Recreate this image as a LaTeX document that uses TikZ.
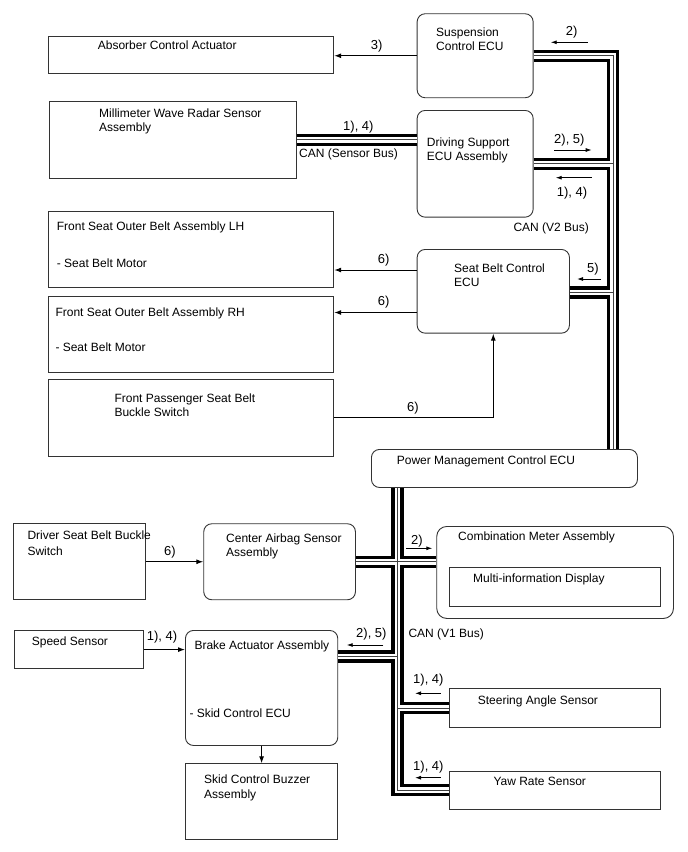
\documentclass[tikz,border=0pt]{standalone}
\usepackage{fontspec}
\setmainfont{Liberation Sans}
\usetikzlibrary{arrows.meta}
\begin{document}
\begin{tikzpicture}[x=1pt,y=-1pt,
  box/.style={draw=black!80,line width=0.9pt,inner sep=0pt,anchor=north west},
  ecu/.style={box,rounded corners=8pt},
  txt/.style={font=\fontsize{12}{14}\selectfont,inner sep=0pt,anchor=north west,align=left},
  num/.style={font=\fontsize{13}{15}\selectfont,inner sep=0pt,anchor=base west},
  sig/.style={line width=1pt,-{Latex[length=7pt,width=5pt]}},
  tag/.style={line width=0.9pt,-{Latex[length=6pt,width=4pt]}},
  busouter/.style={line width=12.5pt,black},
  businner/.style={line width=5.5pt,white},
  buswire/.style={line width=0.9pt,black!75}]
\useasboundingbox (0,0) rectangle (688,852);
% upper part
\node[box,minimum width=285.6pt,minimum height=37.6pt] (absorber) at (47.7,35.7) {};
\node[ecu,minimum width=116pt,minimum height=84pt] (susp) at (416.7,13.3) {};
\node[box,minimum width=246.4pt,minimum height=76.7pt] (mmw) at (49.3,101) {};
\node[ecu,minimum width=116pt,minimum height=106.7pt] (drive) at (416.7,110) {};
\node[box,minimum width=285.6pt,minimum height=76.3pt] (lh) at (47.7,211) {};
\node[box,minimum width=285.6pt,minimum height=76pt] (rh) at (47.7,295.7) {};
\node[box,minimum width=285.6pt,minimum height=76.4pt] (pass) at (47.7,379.3) {};
\node[ecu,minimum width=152.3pt,minimum height=83.7pt] (sbelt) at (416.7,249) {};
\node[ecu,minimum width=266pt,minimum height=38pt] (pm) at (371,449) {};
% lower part
\node[box,minimum width=131.7pt,minimum height=76pt] (drv) at (13.3,523.3) {};
\node[ecu,minimum width=151.7pt,minimum height=76pt] (airbag) at (203.3,523.3) {};
\node[ecu,rounded corners=10pt,minimum width=236.7pt,minimum height=92pt] (meter) at (436.3,526) {};
\node[box,minimum width=210.7pt,minimum height=39pt] (disp) at (449.3,567) {};
\node[box,minimum width=129.3pt,minimum height=38.3pt] (speed) at (14,630) {};
\node[ecu,minimum width=152.3pt,minimum height=115pt] (brake) at (185,630) {};
\node[box,minimum width=152.3pt,minimum height=76pt] (buzzer) at (185,763.3) {};
\node[box,minimum width=210.7pt,minimum height=38.4pt] (steer) at (449.3,688.3) {};
\node[box,minimum width=210.7pt,minimum height=38pt] (yaw) at (449.3,770.7) {};

% texts
\node[txt] (absorber-t) at (97.7,40.4) {Absorber Control Actuator};
\node[txt] (susp-t) at (436,28.1) {Suspension\\Control ECU};
\node[txt] (mmw-t) at (99,108.9) {Millimeter Wave Radar Sensor\\Assembly};
\node[txt] (drive-t) at (426.7,138.1) {Driving Support\\ECU Assembly};
\node[txt] (lh-t) at (56.7,221.4) {Front Seat Outer Belt Assembly LH};
\node[txt] (lh-m) at (56.7,258.1) {- Seat Belt Motor};
\node[txt] (rh-t) at (55.3,307.1) {Front Seat Outer Belt Assembly RH};
\node[txt] (rh-m) at (55.3,342.1) {- Seat Belt Motor};
\node[txt] (pass-t) at (114.3,393.7) {Front Passenger Seat Belt\\Buckle Switch};
\node[txt] (sbelt-t) at (454,263.4) {Seat Belt Control\\ECU};
\node[txt] (pm-t) at (396.7,455.4) {Power Management Control ECU};
\node[txt] (drv-t) at (27.3,530.4) {Driver Seat Belt Buckle\\[2pt]Switch};
\node[txt] (airbag-t) at (226,533.1) {Center Airbag Sensor\\Assembly};
\node[txt] (meter-t) at (458,531.4) {Combination Meter Assembly};
\node[txt] (disp-t) at (473,573.4) {Multi-information Display};
\node[txt] (speed-t) at (31.7,636.4) {Speed Sensor};
\node[txt] (brake-t) at (194.3,640.4) {Brake Actuator Assembly};
\node[txt] (brake-m) at (189.3,708.1) {- Skid Control ECU};
\node[txt] (buzzer-t) at (204,774.1) {Skid Control Buzzer\\[1pt]Assembly};
\node[txt] (steer-t) at (477.7,695.4) {Steering Angle Sensor};
\node[txt] (yaw-t) at (493.3,777.1) {Yaw Rate Sensor};
\node[txt] (can-s) at (299,148.4) {CAN (Sensor Bus)};
\node[txt] (can-v2) at (513.3,222.4) {CAN (V2 Bus)};
\node[txt] (can-v1) at (408.3,628.7) {CAN (V1 Bus)};

% CAN buses
\coordinate (v2x) at (613,0);
\coordinate (v1x) at (397.5,0);
\foreach \layer in {busouter,businner,buswire}{
  \draw[\layer] (mmw.east) -- (drive.west |- mmw.east);
  \draw[\layer] (susp.east) -- (susp.east -| v2x) -- (v2x |- pm.north);
  \draw[\layer] (drive.east) -- (drive.east -| v2x);
  \draw[\layer] ([yshift=-1pt]sbelt.east) -- ([yshift=-1pt]sbelt.east -| v2x);
  \draw[\layer] (v1x |- pm.south) -- (v1x |- yaw.west) -- (yaw.west);
  \draw[\layer] (airbag.east) -- (meter.west |- airbag.east);
  \draw[\layer] ([yshift=-26.5pt]brake.north east) -- ([yshift=-26.5pt]brake.north east -| v1x);
  \draw[\layer] (steer.west) -- (steer.west -| v1x);
}

% signal lines
\coordinate (lhy) at (0,270);
\coordinate (rhy) at (0,312.5);
\draw[sig] (susp.west) -- (susp.west -| absorber.east);
\draw[sig] (sbelt.west |- lhy) -- (lh.east |- lhy);
\draw[sig] (sbelt.west |- rhy) -- (rh.east |- rhy);
\draw[sig] (pass.east) -| (sbelt.south);
\draw[sig] (drv.east) -- (airbag.west);
\draw[sig] (speed.east) -- (speed.east -| brake.west);
\draw[sig] (brake.south) -- (buzzer.north);

% tags
\node[num] (n3) at (370.7,49) {3)};
\node[num] (n6a) at (377.7,263) {6)};
\node[num] (n6b) at (377.7,305) {6)};
\node[num] (n6c) at (407,411) {6)};
\node[num] (n6d) at (164,555) {6)};
\node[num] (n14s) at (343,130) {1), 4)};
\node[num] (n14b) at (146.7,640) {1), 4)};
\node[num] (n2a) at (565.7,35.7) {2)};
\node[num] (n25a) at (554,143.3) {2), 5)};
\node[num] (n14a) at (556.7,196) {1), 4)};
\node[num] (n5) at (587,272) {5)};
\node[num] (n2b) at (411,544.3) {2)};
\node[num] (n25b) at (356,637.3) {2), 5)};
\node[num] (n14c) at (413,683.3) {1), 4)};
\node[num] (n14d) at (413,770.7) {1), 4)};
\coordinate (a2a) at (587.7,42.3);
\coordinate (a25a) at (554,150);
\coordinate (a14a) at (591.7,177.7);
\coordinate (a5) at (601,279);
\coordinate (a2b) at (406,548.3);
\coordinate (a25b) at (383.3,645);
\coordinate (a14c) at (440.7,693.3);
\coordinate (a14d) at (440.7,777.7);
\draw[tag] (a2a) -- ++(-37,0);
\draw[tag] (a25a) -- ++(37.7,0);
\draw[tag] (a14a) -- ++(-36,0);
\draw[tag] (a5) -- ++(-24,0);
\draw[tag] (a2b) -- ++(26.3,0);
\draw[tag] (a25b) -- ++(-36.6,0);
\draw[tag] (a14c) -- ++(-25.7,0);
\draw[tag] (a14d) -- ++(-25.7,0);
\end{tikzpicture}
\end{document}
